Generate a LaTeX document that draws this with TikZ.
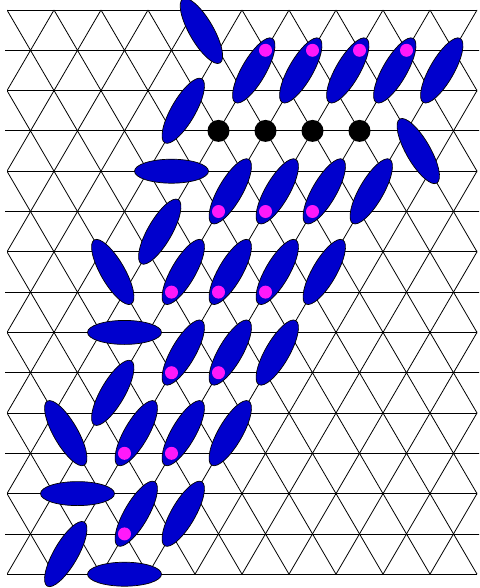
\documentclass[tikz,border=0pt]{standalone}
\usepackage{xcolor}
\usetikzlibrary{shapes.geometric, calc}
\definecolor{dimerblue}{RGB}{0,0,205}
\definecolor{defect}{RGB}{255,25,250}

\begin{document}
\begin{tikzpicture}[x=1pt, y=-1pt,
  bond/.style={black, line width=0.8pt},
  dimer/.style={ellipse, draw=black, line width=0.7pt, fill=dimerblue, minimum width=74pt, minimum height=24pt, inner sep=0pt},
  mdot/.style={circle, fill=defect, minimum size=13pt, inner sep=0pt},
  bdot/.style={circle, fill=black, minimum size=22pt, inner sep=0pt}]
\useasboundingbox (0,0) rectangle (479,588);
% lattice sites
\foreach \r in {0,...,14}
  \foreach \i in {-1,...,11}
    \coordinate (p-\r-\i) at ({7+47*\i+23.5*mod(\r,2)}, {10+40.3*\r});
% bonds
\begin{scope}
\clip (5,9) rectangle (479,575);
\foreach \r in {0,2,...,14}
  \draw[bond] (p-\r-0) -- (p-\r-10);
\foreach \r in {1,3,...,13}
  \draw[bond] (p-\r--1) -- (p-\r-10);
\end{scope}
\begin{scope}
\clip (7,9) rectangle (477,575);
\foreach \r in {0,...,13}{
  \pgfmathtruncatemacro{\s}{\r+1}
  \pgfmathtruncatemacro{\o}{mod(\r,2)}
  \foreach \i in {0,...,10}{
    \pgfmathtruncatemacro{\dl}{\i-1+\o}
    \pgfmathtruncatemacro{\dr}{\i+\o}
    \draw[bond] (p-\r-\i) -- (p-\s-\dl);
    \draw[bond] (p-\r-\i) -- (p-\s-\dr);
  }}
\end{scope}
% dimers
\node[dimer, rotate=-60, xshift=-2pt, yshift=-5pt] (d0) at ($(p-0-4)!0.5!(p-1-4)$) {};
\foreach \a/\b/\ang [count=\n] in {1-5/2-5/60, 1-6/2-6/60, 1-7/2-7/60, 1-8/2-8/60, 1-9/2-9/60,
    2-4/3-3/60, 3-8/4-9/-60, 4-3/4-4/0, 4-5/5-4/60, 4-6/5-5/60, 4-7/5-6/60, 4-8/5-7/60,
    5-3/6-3/60, 6-2/7-2/-60, 6-4/7-3/60, 6-5/7-4/60, 6-6/7-5/60, 6-7/7-6/60,
    8-2/8-3/0, 8-4/9-3/60, 8-5/9-4/60, 8-6/9-5/60, 9-2/10-2/60,
    10-1/11-1/-60, 10-3/11-2/60, 10-4/11-3/60, 10-5/11-4/60,
    12-1/12-2/0, 12-3/13-2/60, 12-4/13-3/60, 13-1/14-1/60, 14-2/14-3/0}
  \node[dimer, rotate=\ang] (d\n) at ($(p-\a)!0.5!(p-\b)$) {};
% defects
\foreach \v [count=\n] in {1-5, 1-6, 1-7, 1-8, 5-4, 5-5, 5-6, 7-3, 7-4, 7-5, 9-3, 9-4, 11-2, 11-3, 13-2}
  \node[mdot] (m\n) at (p-\v) {};
\foreach \v [count=\n] in {3-4, 3-5, 3-6, 3-7}
  \node[bdot] (b\n) at (p-\v) {};
\end{tikzpicture}
\end{document}
